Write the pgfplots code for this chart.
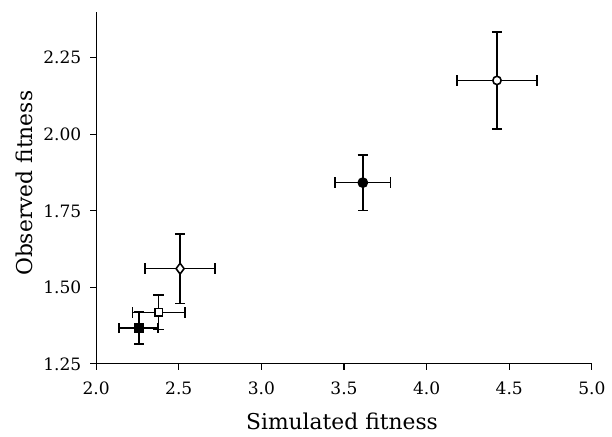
\documentclass[border=0pt]{standalone}
\usepackage{fontspec}
\setmainfont{DejaVu Serif}
\usepackage{pgfplots}
\pgfplotsset{compat=1.18}

\pgfplotsset{
  pt/.style={only marks, black, line width=0.8pt,
    error bars/x dir=both, error bars/y dir=both,
    error bars/x explicit, error bars/y explicit,
    error bars/error mark=|,
    error bars/error bar style={line width=0.8pt, black},
    error bars/error mark options={line width=0.8pt, mark size=2.6pt, black}},
}

\begin{document}
\begin{tikzpicture}
\begin{axis}[
    scale only axis,
    width=250pt, height=177.5pt,
    xmin=2, xmax=5, ymin=1.25, ymax=2.4,
    axis lines=left,
    axis line style={-, line width=0.65pt},
    xtick={2,2.5,...,5},
    ytick={1.25,1.5,1.75,2,2.25},
    tick align=outside,
    major tick length=3pt,
    tick style={line width=0.65pt, black},
    xticklabel style={/pgf/number format/.cd, fixed, fixed zerofill, precision=1, /tikz/.cd, yshift=-2.5pt},
    yticklabel style={/pgf/number format/.cd, fixed, fixed zerofill, precision=2, /tikz/.cd, xshift=-1pt},
    /pgf/number format/assume math mode=true,
    ticklabel style={font=\fontsize{8.6}{10}\selectfont},
    xlabel={Simulated fitness},
    ylabel={Observed fitness},
    label style={font=\fontsize{11}{13}\selectfont},
    xlabel style={at={(axis description cs:0.496,-0.186)}, anchor=base},
    ylabel style={at={(axis description cs:-0.128,0.513)}, anchor=base},
    clip=false,
]
% filled square
\addplot+[pt, mark=square*, mark options={fill=black, mark size=2pt}] coordinates {
  (2.258,1.367) +- (0.118,0.052)
};
% open square
\addplot+[pt, mark=square*, mark options={fill=white, mark size=1.9pt}] coordinates {
  (2.378,1.418) +- (0.158,0.056)
};
% open diamond
\addplot+[pt, mark=diamond*, mark options={fill=white, mark size=2.7pt}] coordinates {
  (2.508,1.561) +- (0.212,0.114)
};
% filled circle
\addplot+[pt, mark=*, mark options={fill=black, mark size=2.3pt}] coordinates {
  (3.614,1.842) +- (0.168,0.091)
};
% open circle
\addplot+[pt, mark=*, mark options={fill=white, mark size=2.1pt}] coordinates {
  (4.426,2.176) +- (0.243,0.159)
};
% page margins as in the reference
\path (rel axis cs:0,0) ++(-48.5pt,-35.5pt);
\path (rel axis cs:1,1) ++(8pt,6pt);
\end{axis}
\end{tikzpicture}
\end{document}
